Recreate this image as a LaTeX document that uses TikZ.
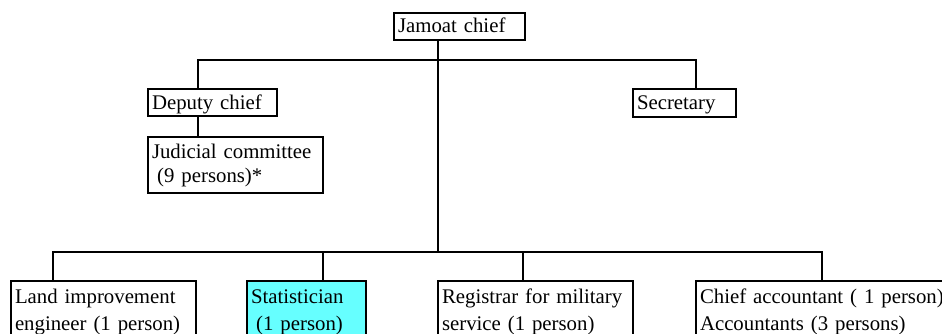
\documentclass[tikz,border=0pt]{standalone}
\usepackage{fontspec}
\setmainfont{Liberation Serif}
\definecolor{statcyan}{RGB}{102,255,255}
\tikzset{
  wire/.style={line width=2.9pt},
  orgbox/.style={draw, line width=2.9pt, fill=white, anchor=north west,
    outer sep=0pt, inner xsep=4pt, inner ysep=0pt, align=left,
    font=\fontsize{20.8}{24}\selectfont},
  lowbox/.style={orgbox, text height=22pt, text depth=51pt,
    font=\fontsize{20.8}{27}\selectfont},
}
\begin{document}
\begin{tikzpicture}[x=1pt,y=1pt]
  \useasboundingbox (0,0) rectangle (942,-334);
  \clip (0,0) rectangle (942,-334);

  % upper level
  \node[orgbox, text width=123pt, text height=20pt, text depth=7pt] (chief) at (394,-13) {Jamoat chief};
  \node[orgbox, text width=121pt, text height=21pt, text depth=6pt] (deputy) at (148,-89) {Deputy chief};
  \node[orgbox, text width=95pt, text height=21pt, text depth=7pt] (secretary) at (633,-89) {Secretary};
  \node[orgbox, text width=167pt, text height=21pt, text depth=35pt] (judicial) at (148,-137)
    {Judicial committee\\\hspace*{.25em}(9 persons)*};

  % lower level
  \node[lowbox, text width=177pt] (land) at (11,-281) {Land improvement\\engineer (1 person)};
  \node[lowbox, text width=111pt, fill=statcyan] (stat) at (247,-281) {Statistician\\\hspace*{.25em}(1 person)};
  \node[lowbox, text width=187pt] (registrar) at (438,-281) {Registrar for military\\service (1 person)};
  \node[lowbox, text width=248pt] (accountant) at (696,-281) {Chief accountant ( 1 person)\\Accountants (3 persons)};

  % branch points
  \coordinate (tl) at (198,-60);
  \coordinate (tr) at (696,-60);
  \coordinate (trunk) at (438,-252);
  \coordinate (bl) at (53,-252);
  \coordinate (bs) at (323,-252);
  \coordinate (bg) at (523,-252);
  \coordinate (br) at (822,-252);

  % connectors
  \draw[wire] (deputy.north -| tl) -- (tl) -- (tr) -- (secretary.north -| tr);
  \draw[wire] (deputy.south -| tl) -- (judicial.north -| tl);
  \draw[wire] (chief.south -| trunk) -- (trunk);
  \draw[wire] (land.north -| bl) -- (bl) -- (br) -- (accountant.north -| br);
  \draw[wire] (bs) -- (stat.north -| bs);
  \draw[wire] (bg) -- (registrar.north -| bg);
\end{tikzpicture}
\end{document}
